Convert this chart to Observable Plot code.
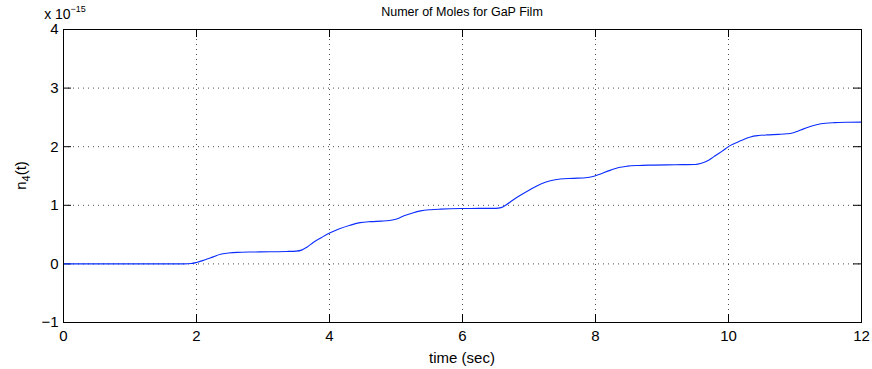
<!DOCTYPE html>
<html><head><meta charset="utf-8">
<script src="https://cdn.jsdelivr.net/npm/d3@7"></script>
<script src="https://cdn.jsdelivr.net/npm/@observablehq/plot@0.6"></script>
<style>body{margin:0;background:#fff} svg{display:block}</style>
</head><body><div id="chart"></div>
<script>
const time = [0, 1.0, 1.82, 1.92, 2.0, 2.11, 2.25, 2.36, 2.48, 2.61, 2.85, 3.11, 3.35, 3.50, 3.58, 3.66, 3.76, 3.88, 4.01, 4.15, 4.31, 4.46, 4.62, 4.78, 4.90, 4.98, 5.05, 5.12, 5.25, 5.37, 5.52, 5.67, 5.97, 6.25, 6.50, 6.58, 6.66, 6.76, 6.87, 7.02, 7.17, 7.32, 7.47, 7.67, 7.88, 7.96, 8.05, 8.13, 8.23, 8.35, 8.48, 8.65, 8.83, 9.20, 9.50, 9.58, 9.67, 9.78, 9.90, 10.01, 10.18, 10.33, 10.45, 10.58, 10.75, 10.88, 10.96, 11.04, 11.12, 11.22, 11.34, 11.46, 11.59, 11.80, 12];
const moles = [0, 0, 0, 0.006, 0.025, 0.063, 0.12, 0.165, 0.185, 0.197, 0.203, 0.207, 0.212, 0.218, 0.235, 0.285, 0.37, 0.45, 0.53, 0.60, 0.66, 0.705, 0.722, 0.73, 0.74, 0.757, 0.785, 0.82, 0.87, 0.905, 0.925, 0.935, 0.945, 0.947, 0.948, 0.96, 1.01, 1.09, 1.17, 1.27, 1.36, 1.42, 1.45, 1.46, 1.475, 1.49, 1.525, 1.56, 1.60, 1.645, 1.668, 1.68, 1.686, 1.692, 1.697, 1.712, 1.75, 1.83, 1.92, 2.01, 2.10, 2.167, 2.19, 2.202, 2.21, 2.22, 2.235, 2.265, 2.30, 2.34, 2.38, 2.40, 2.41, 2.417, 2.42];
const xTicks = [0, 2, 4, 6, 8, 10, 12];
const yTicks = [-1, 0, 1, 2, 3, 4];
const titleText = "Numer of Moles for GaP Film";
const xLabelText = "time (sec)";
const exponentText = "−15";

const data = time.map((t, i) => ({t, v: moles[i]}));
const W = 872, H = 369, mL = 63, mR = 11, mT = 29, mB = 47;
const pw = W - mL - mR, ph = H - mT - mB;
const tk = 8;
const font = "'Liberation Sans', Arial, Helvetica, sans-serif";
const fmt = d => d < 0 ? "−" + Math.abs(d) : String(d);

const plot = Plot.plot({
  width: W, height: H,
  marginLeft: mL, marginRight: mR, marginTop: mT, marginBottom: mB,
  style: {fontFamily: font, fontSize: "15px", color: "#000", background: "#fff"},
  x: {domain: [0, 12], label: null},
  y: {domain: [-1, 4], label: null},
  marks: [
    Plot.gridX(xTicks.slice(1, -1), {stroke: "#000", strokeOpacity: 0.7, strokeDasharray: "1,4"}),
    Plot.gridY(yTicks.slice(1, -1), {stroke: "#000", strokeOpacity: 0.7, strokeDasharray: "1,4"}),
    Plot.axisX(xTicks, {tickSize: 0, tickPadding: 8, label: null, fontSize: 15, tickFormat: fmt}),
    Plot.axisY(yTicks, {tickSize: 0, tickPadding: 5, label: null, fontSize: 15, tickFormat: fmt}),
    Plot.tickX(xTicks, {x: d => d, insetTop: ph - tk, stroke: "#000"}),
    Plot.tickX(xTicks, {x: d => d, insetBottom: ph - tk, stroke: "#000"}),
    Plot.tickY(yTicks, {y: d => d, insetRight: pw - tk, stroke: "#000"}),
    Plot.tickY(yTicks, {y: d => d, insetLeft: pw - tk, stroke: "#000"}),
    Plot.line(data, {x: "t", y: "v", stroke: "#0a2cff", strokeWidth: 1.1, curve: "monotone-x"}),
    Plot.frame({stroke: "#000", strokeWidth: 1})
  ]
});

const svg = d3.select(plot);
const cx = mL + pw / 2;
svg.append("text").attr("x", cx).attr("y", 16).attr("text-anchor", "middle")
  .attr("font-family", font).attr("font-size", 12.5).attr("fill", "#000").text(titleText);
const ex = svg.append("text").attr("x", 65).attr("y", 19)
  .attr("font-family", font).attr("font-size", 14).attr("fill", "#000");
ex.append("tspan").text("x 10");
ex.append("tspan").attr("dy", -7).attr("font-size", 9).text(exponentText);
svg.append("text").attr("x", cx).attr("y", 363).attr("text-anchor", "middle")
  .attr("font-family", font).attr("font-size", 15).attr("fill", "#000").text(xLabelText);
const yl = svg.append("text").attr("transform", `translate(26,${mT + ph / 2}) rotate(-90)`)
  .attr("text-anchor", "middle").attr("font-family", font).attr("font-size", 15).attr("fill", "#000");
yl.append("tspan").text("n");
yl.append("tspan").attr("dy", 4).attr("font-size", 11).text("4");
yl.append("tspan").attr("dy", -4).text("(t)");

document.getElementById("chart").appendChild(plot);
</script>
</body></html>
